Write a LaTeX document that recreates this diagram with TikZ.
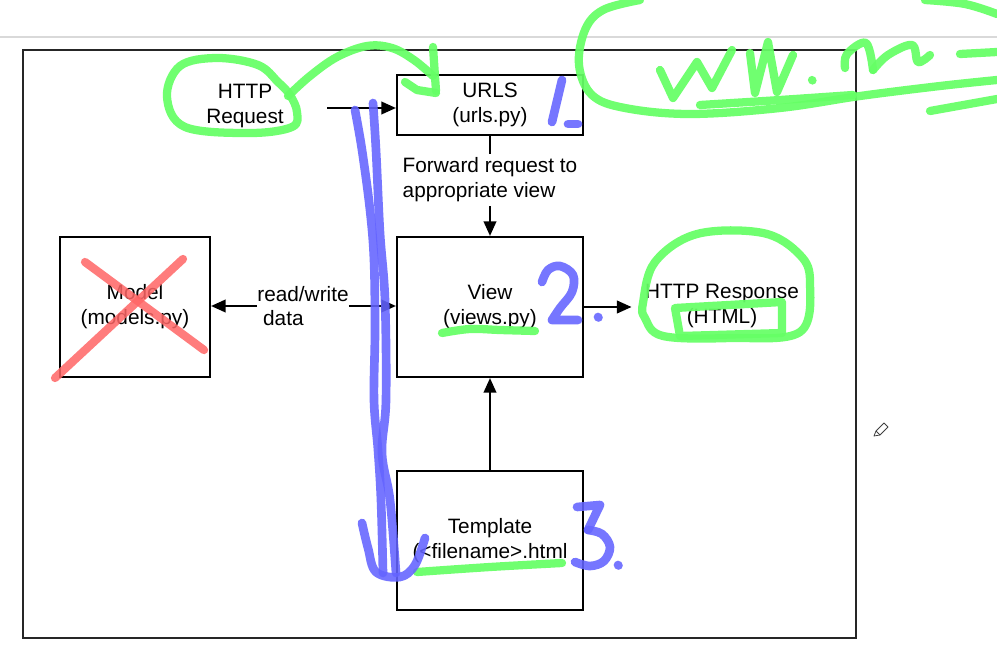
\documentclass[tikz,border=0pt]{standalone}
\usepackage{fontspec}
\setmainfont{Liberation Sans}
\usetikzlibrary{arrows.meta}
\definecolor{hlgreen}{HTML}{66FF66}
\definecolor{hlblue}{HTML}{6464FF}
\definecolor{hlred}{HTML}{FF6666}
\newcommand\dgfont{\fontsize{15.6pt}{18.6pt}\selectfont}
\begin{document}
\begin{tikzpicture}[x=0.75pt,y=-0.75pt,
  box/.style={draw,line width=1.6pt,minimum width=139.5pt,inner sep=0pt,align=center,font=\dgfont},
  lbl/.style={inner sep=0pt,font=\dgfont},
  conn/.style={line width=1.5pt,-{Triangle[length=11pt,width=9.5pt]}},
  plainline/.style={line width=1.5pt},
  pen/.style={line cap=round,line join=round},
  gpen/.style={pen,line width=6.2pt,draw=hlgreen,draw opacity=0.93},
  bpen/.style={pen,line width=6.5pt,draw=hlblue,draw opacity=0.88},
  rpen/.style={pen,line width=6.2pt,draw=hlred,draw opacity=0.85}]
\fill[white] (0,0) rectangle (997,646);
\useasboundingbox (0,0) rectangle (997,646);
\draw[black!15,line width=0.8pt] (0,37) -- (997,37);
\draw[black!85,line width=0.9pt] (23,50) rectangle (856,638);

% diagram
\node[box,minimum height=45pt] (urls) at (490,105) {URLS\\(urls.py)};
\node[box,minimum height=105pt] (view) at (490,307) {View\\(views.py)};
\node[box,minimum height=104.25pt] (tmpl) at (490,540.5) {Template\\(<filename>.html};
\node[box,minimum width=112.5pt,minimum height=105pt] (model) at (135,307) {Model\\(models.py)};
\node[lbl,align=center] (req) at (245,106) {HTTP\\Request};
\coordinate (reqout) at (327,108);
\node[lbl,align=left,minimum height=39pt] (fwd) at (490,180) {Forward request to\\appropriate view};
\node[lbl,align=left] (rw) at (303,306) {read/write\\\hspace*{0.28em}data};
\node[lbl,align=center,inner xsep=10pt] (resp) at (722,306) {HTTP Response\\(HTML)};

\draw[conn] (reqout) -- (reqout -| urls.west);
\draw[plainline] (urls.south) -- (fwd.north);
\draw[conn] (fwd.south) -- (view.north);
\draw[conn] (rw.west) -- (rw.west -| model.east);
\draw[conn] (rw.east) -- (rw.east -| view.west);
\draw[conn] (view.east) -- (view.east -| resp.west);
\draw[conn] (tmpl.north) -- (view.south);

% pencil cursor
\draw[black!75,line width=0.6pt,line join=round] (874,436) -- (876,431) -- (884,423) -- (888,427) -- (880,435) -- cycle;
\draw[black!75,line width=0.6pt] (876,431) -- (880,435);

% green annotations
\draw[gpen] plot[smooth cycle,tension=0.6] coordinates {(290,95) (297,112) (292,127) (250,133) (185,127) (167,97) (180,66) (217,58) (258,65) (278,82)};
\draw[gpen] plot[smooth,tension=0.6] coordinates {(288,96) (310,76) (337,57) (367,46) (392,48) (414,60) (433,76)};
\draw[gpen] (433,47) -- (436,91);
\draw[gpen] (405,82) -- (417,90) -- (436,93);
\draw[gpen] plot[smooth,tension=0.6] coordinates {(640,0) (603,10) (585,30) (579,65) (592,95) (625,108) (690,114) (780,108) (860,96) (940,86) (997,80)};
\draw[gpen] plot[smooth,tension=0.6] coordinates {(700,105) (780,100) (853,95)};
\draw[gpen] plot[smooth,tension=0.6] coordinates {(925,0) (965,4) (997,14)};
\draw[gpen] (930,111) -- (997,99);
\draw[gpen] (960,54) -- (997,52);
% handwriting ww.nu
\draw[gpen] (660,70) -- (673,98) -- (697,62) -- (712,88) -- (732,50);
\draw[gpen] (750,53) -- (755,93) -- (768,42) -- (777,92) -- (793,55);
\draw[gpen] (812,80) -- (812.5,80.5);
\draw[gpen] plot[smooth,tension=0.6] coordinates {(845,68) (847,54) (866,43) (873,70)};
\draw[gpen] plot[smooth,tension=0.6] coordinates {(873,70) (888,55) (912,45) (918,62) (930,55)};
\draw[gpen] plot[smooth,tension=0.6] coordinates {(442,333) (470,329) (500,330) (535,331)};
\draw[gpen] plot[smooth,tension=0.6] coordinates {(417,572) (490,567) (562,563)};
\draw[gpen] plot[smooth cycle,tension=0.6] coordinates {(643,303) (655,262) (697,234) (763,233) (800,255) (810,282) (800,332) (730,338) (663,336) (645,318)};
\draw[gpen] (675,308) -- (782,302) -- (782,333) -- (680,336) -- cycle;

% blue annotations
\draw[bpen] plot[smooth,tension=0.6] coordinates {(355,110) (362,150) (370,210) (374,260) (375,330) (374,400) (378,450) (381,500) (383,573)};
\draw[bpen] plot[smooth,tension=0.6] coordinates {(373,103) (376,150) (380,233) (385,300) (386,400) (382,453) (390,500) (396,573)};
\draw[bpen] plot[smooth,tension=0.6] coordinates {(362,523) (368,548) (376,572) (400,577) (415,565) (425,538)};
\draw[bpen] (562,80) -- (552,122);
\draw[bpen] (568,124) -- (578,124);
\draw[bpen] plot[smooth,tension=0.6] coordinates {(542,282) (548,270) (560,266) (573,275) (572,292) (560,308) (552,320)} -- (578,320);
\draw[bpen] (598,317) -- (598.5,317.5);
\draw[bpen] (577,507) -- (600,505) -- (588,530);
\draw[bpen] plot[smooth,tension=0.6] coordinates {(588,530) (602,534) (610,547) (604,561) (590,566) (575,562)};
\draw[bpen] (618,565) -- (618.5,565.5);

% red cross
\draw[rpen] (85,262) -- (204,350);
\draw[rpen] (183,259) -- (55,378);
\end{tikzpicture}
\end{document}
